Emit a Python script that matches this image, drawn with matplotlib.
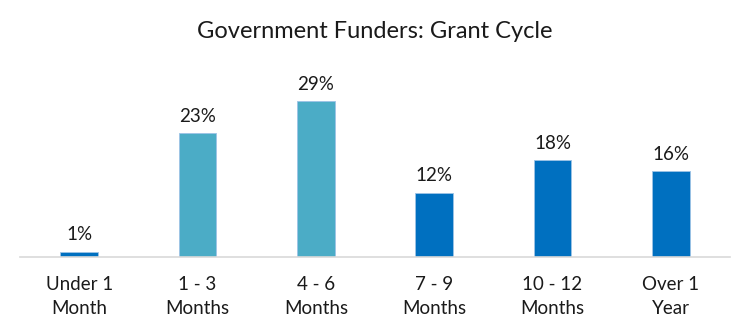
import matplotlib.pyplot as plt

categories = ['Under 1\nMonth', '1 - 3\nMonths', '4 - 6\nMonths', '7 - 9\nMonths', '10 - 12\nMonths', 'Over 1\nYear']
percentages = [1, 23, 29, 12, 18, 16]
highlight = [False, True, True, False, False, False]

dark_blue = '#0070C0'
light_blue = '#4BACC6'

plt.rcParams['font.family'] = ['Lato', 'DejaVu Sans']

fig = plt.figure(figsize=(7.5, 3.32), dpi=100)
ax = fig.add_axes([20 / 750, 75 / 332, 710 / 750, 188 / 332])

colors = [light_blue if h else dark_blue for h in highlight]
x = range(len(categories))
bars = ax.bar(x, percentages, width=0.32, color=colors, edgecolor='#9DC3E6', linewidth=0.6)

for xi, v in zip(x, percentages):
    ax.annotate(f'{v}%', (xi, v), xytext=(0, 6), textcoords='offset points',
                ha='center', va='bottom', fontsize=13.5, color='#1a1a1a')

ax.set_xlim(-0.5, len(categories) - 0.5)
ax.set_ylim(0, 35)
ax.set_yticks([])
ax.set_xticks(list(x))
ax.set_xticklabels(categories, fontsize=13.5, color='#1a1a1a', linespacing=1.45)
ax.tick_params(axis='x', length=0, pad=14)
for side in ['top', 'right', 'left']:
    ax.spines[side].set_visible(False)
ax.spines['bottom'].set_color('#D9D9D9')
ax.spines['bottom'].set_linewidth(1.2)

fig.text(0.5, 1 - 32 / 332, 'Government Funders: Grant Cycle', ha='center', va='center',
         fontsize=17, color='#1a1a1a')

fig.savefig('out.png', dpi=100)
